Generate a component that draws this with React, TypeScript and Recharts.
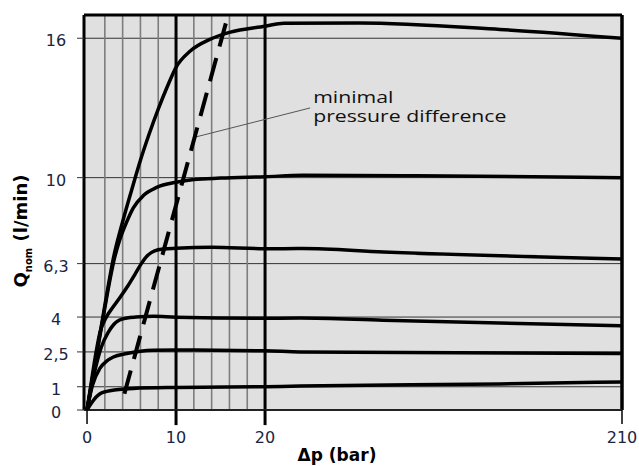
import {
  LineChart,
  Line,
  XAxis,
  YAxis,
  CartesianGrid,
  ReferenceLine,
  ReferenceDot,
} from "recharts";

// pressure axis has a break: 0..20 bar linear, 20..210 bar squeezed
const BREAK_AT = 20;
const TAIL_SCALE = 40.1 / 190;
const toPlot = (p: number) => (p <= BREAK_AT ? p : BREAK_AT + (p - BREAK_AT) * TAIL_SCALE);

const X_MIN = -0.34;
const X_MAX = toPlot(210);
const Y_MAX = 17;

const xTicks = [0, 10, 20, 210];
const yTicks = [0, 1, 2.5, 4, 6.3, 10, 16];
const minorGrid = [2, 4, 6, 8, 12, 14, 16, 18];
const majorGrid = [10, 20];

// Δp (bar) / Q (l/min) per nominal flow curve
const q16P = [0, 1, 2, 3, 4, 5, 6, 7, 8, 9, 10, 11.6, 13.8, 16, 20, 30, 70, 145, 210];
const q16Q = [0, 2.25, 4.5, 6.6, 8.1, 9.45, 10.75, 11.9, 12.95, 13.9, 14.75, 15.45, 15.95, 16.25, 16.52, 16.65, 16.66, 16.38, 16.0];

const q10P = [0, 1, 2, 2.6, 3, 3.7, 4.46, 5.2, 6.33, 7.83, 10, 12, 15, 20, 40, 100, 210];
const q10Q = [0, 2.2, 4.4, 5.65, 6.4, 7.35, 8.1, 8.7, 9.23, 9.58, 9.8, 9.92, 9.98, 10.04, 10.1, 10.08, 10.0];

const q63P = [0, 0.5, 1.0, 1.46, 2.1, 2.96, 3.8, 4.6, 5.4, 6.1, 6.8, 7.6, 8.6, 10, 14, 20, 40, 83, 210];
const q63Q = [0, 1.25, 2.45, 3.35, 3.95, 4.45, 4.9, 5.35, 5.85, 6.3, 6.65, 6.85, 6.93, 6.96, 7.0, 6.94, 6.95, 6.8, 6.5];

const q4P = [0, 0.8, 1.6, 2.4, 3.0, 3.6, 4.5, 5.5, 7.5, 10, 20, 38.6, 83, 210];
const q4Q = [0, 1.55, 2.7, 3.35, 3.68, 3.86, 3.96, 4.0, 4.03, 3.99, 3.95, 3.96, 3.86, 3.62];

const q25P = [0, 0.6, 1.46, 2.2, 2.96, 4.46, 6, 7.45, 10, 20, 38.6, 210];
const q25Q = [0, 1.05, 1.8, 2.1, 2.28, 2.43, 2.53, 2.57, 2.58, 2.55, 2.5, 2.43];

const q1P = [0, 0.5, 1.0, 1.46, 2.2, 3.3, 5.2, 10, 20, 38.6, 145, 210];
const q1Q = [0, 0.3, 0.55, 0.7, 0.8, 0.87, 0.93, 0.97, 1.0, 1.03, 1.12, 1.21];

const minDiffP = [4.2, 15.85];
const minDiffQ = [0.7, 17];

const toSeries = (p: number[], q: number[]) => p.map((v, i) => ({ xp: toPlot(v), q: q[i] }));

const curves = [
  toSeries(q16P, q16Q),
  toSeries(q10P, q10Q),
  toSeries(q63P, q63Q),
  toSeries(q4P, q4Q),
  toSeries(q25P, q25Q),
  toSeries(q1P, q1Q),
];

const TICK_COLOR = "#1b2540";
const FONT = "'DejaVu Sans', sans-serif";

const fmtQ = (v: number) => String(v).replace(".", ",");

const YTick = ({ y, payload }: any) => (
  <text x={56} y={y} dy={8} textAnchor="middle" fill={TICK_COLOR} fontSize={16} fontFamily={FONT}>
    {fmtQ(payload.value)}
  </text>
);

export default function App() {
  return (
    <div style={{ position: "absolute", left: 0, top: 0, background: "#fff" }}>
      <LineChart width={639} height={466} margin={{ top: 15, right: 17, bottom: 0, left: 0 }}>
        <CartesianGrid fill="#e0e0e0" vertical={false} stroke="#333" strokeWidth={1} />
        <XAxis
          type="number"
          dataKey="xp"
          domain={[X_MIN, X_MAX]}
          allowDataOverflow
          ticks={xTicks.map(toPlot)}
          tickFormatter={(_v: number, i: number) => String(xTicks[i])}
          height={56}
          axisLine={false}
          tickSize={14}
          tickMargin={8}
          tickLine={{ stroke: "#000", strokeWidth: 1.5 }}
          tick={{ fill: TICK_COLOR, fontSize: 16, fontFamily: FONT }}
          label={{
            content: ({ viewBox }: any) => (
              <text
                x={viewBox.x + viewBox.width / 2 - 16}
                y={viewBox.y + 51}
                textAnchor="middle"
                fontSize={17}
                fontWeight="bold"
                fontFamily={FONT}
                fill="#000"
              >
                Δp (bar)
              </text>
            ),
          }}
        />
        <YAxis
          type="number"
          dataKey="q"
          domain={[0, Y_MAX]}
          allowDataOverflow
          ticks={yTicks}
          width={84}
          axisLine={false}
          tickSize={7}
          tickLine={{ stroke: "#333", strokeWidth: 1 }}
          tick={<YTick />}
          label={{
            content: () => (
              <text
                x={20}
                y={231}
                transform="rotate(-90 20 231)"
                textAnchor="middle"
                dominantBaseline="central"
                fontSize={18}
                fontWeight="bold"
                fontFamily={FONT}
                fill="#000"
              >
                <tspan>Q</tspan>
                <tspan fontSize={10} dy={8}>nom</tspan>
                <tspan dy={-8}>{"  (l/min)"}</tspan>
              </text>
            ),
          }}
        />

        {minorGrid.map((v) => (
          <ReferenceLine key={`m${v}`} x={toPlot(v)} stroke="#7d7d7d" strokeWidth={1.6} />
        ))}
        {majorGrid.map((v) => (
          <ReferenceLine key={`M${v}`} x={toPlot(v)} stroke="#000" strokeWidth={3} />
        ))}
        {majorGrid.map((v) => (
          <ReferenceLine
            key={`t${v}`}
            ifOverflow="visible"
            segment={[
              { x: toPlot(v), y: 0 },
              { x: toPlot(v), y: -0.65 },
            ]}
            stroke="#000"
            strokeWidth={3}
          />
        ))}

        {/* plot frame */}
        <ReferenceLine x={X_MIN} stroke="#000" strokeWidth={3} />
        <ReferenceLine x={X_MAX} stroke="#000" strokeWidth={3.5} />
        <ReferenceLine y={Y_MAX} stroke="#000" strokeWidth={3} />
        <ReferenceLine y={0} stroke="#222" strokeWidth={2} />

        {/* leader line to the annotation */}
        <ReferenceLine
          segment={[
            { x: toPlot(11.9), y: 11.72 },
            { x: toPlot(44), y: 13.0 },
          ]}
          stroke="#555"
          strokeWidth={1}
        />
        <ReferenceDot
          x={toPlot(44)}
          y={13.0}
          r={1}
          fill="none"
          stroke="none"
          label={{
            content: ({ viewBox }: any) => (
              <text
                transform={`translate(${viewBox.x + 4} ${viewBox.y}) scale(1.25 1)`}
                fontSize={17}
                fontFamily="'Open Sans', sans-serif"
                fill="#111"
              >
                <tspan x={0} y={-4}>minimal</tspan>
                <tspan x={0} y={15}>pressure difference</tspan>
              </text>
            ),
          }}
        />

        {curves.map((d, i) => (
          <Line
            key={i}
            data={d}
            dataKey="q"
            type="monotone"
            stroke="#000"
            strokeWidth={3.5}
            dot={false}
            activeDot={false}
            isAnimationActive={false}
          />
        ))}
        <Line
          data={toSeries(minDiffP, minDiffQ)}
          dataKey="q"
          type="linear"
          stroke="#000"
          strokeWidth={4}
          strokeDasharray="24 12"
          dot={false}
          activeDot={false}
          isAnimationActive={false}
        />
      </LineChart>
    </div>
  );
}
